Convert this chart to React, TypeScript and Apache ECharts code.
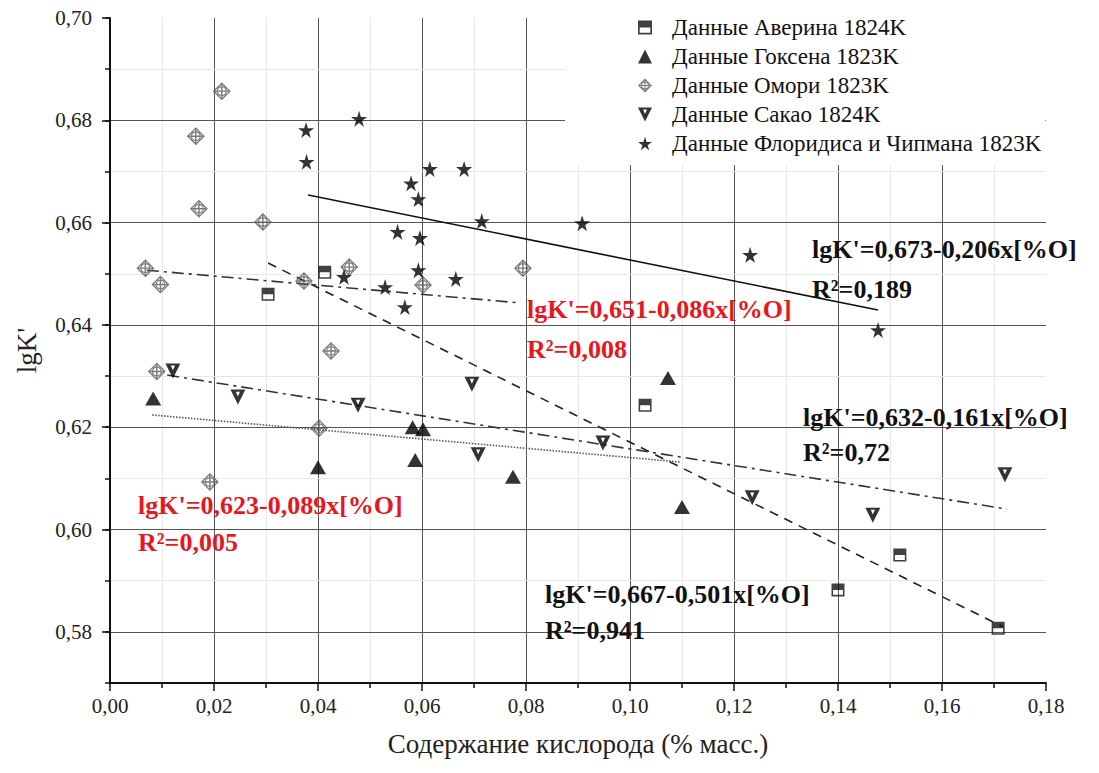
import React, { useEffect, useRef } from "react";
import * as echarts from "echarts";

// ---- data ----
const xTicks = [0, 0.02, 0.04, 0.06, 0.08, 0.1, 0.12, 0.14, 0.16, 0.18];
const yTicks = [0.58, 0.6, 0.62, 0.64, 0.66, 0.68, 0.7];

const averinName = "Данные Аверина 1824K";
const averinX = [0.0304, 0.0413, 0.1029, 0.14, 0.1519, 0.1708];
const averinY = [0.646, 0.6503, 0.6243, 0.5882, 0.595, 0.5807];

const goksenName = "Данные Гоксена 1823K";
const goksenX = [0.0083, 0.04, 0.0582, 0.0602, 0.0587, 0.0775, 0.1073, 0.11];
const goksenY = [0.6256, 0.6122, 0.62, 0.6196, 0.6136, 0.6103, 0.6296, 0.6044];

const omoriName = "Данные Омори 1823K";
const omoriX = [0.0068, 0.0097, 0.009, 0.0165, 0.0171, 0.0215, 0.0192, 0.0294, 0.0373, 0.0402, 0.0425, 0.046, 0.0602, 0.0794];
const omoriY = [0.6511, 0.6479, 0.6309, 0.6769, 0.6627, 0.6857, 0.6093, 0.6601, 0.6486, 0.6198, 0.6349, 0.6513, 0.6478, 0.6511];

const sakaoName = "Данные Сакао 1824K";
const sakaoX = [0.0121, 0.0246, 0.0477, 0.0696, 0.0708, 0.0948, 0.1235, 0.1467, 0.1721];
const sakaoY = [0.631, 0.6259, 0.6243, 0.6284, 0.6146, 0.6169, 0.6062, 0.6028, 0.6107];

const floridisName = "Данные Флоридиса и Чипмана 1823K";
const floridisX = [0.0377, 0.0479, 0.0378, 0.0615, 0.0681, 0.0579, 0.0593, 0.0715, 0.0908, 0.0553, 0.0596, 0.0593, 0.045, 0.0665, 0.0529, 0.0567, 0.1231, 0.1477];
const floridisY = [0.6781, 0.6803, 0.6719, 0.6705, 0.6705, 0.6677, 0.6646, 0.6603, 0.6599, 0.6582, 0.657, 0.6507, 0.6494, 0.649, 0.6474, 0.6435, 0.6537, 0.639];

// fit line end points
const fitFloridisX = [0.0381, 0.1477];
const fitFloridisY = [0.6654, 0.6429];
const fitAverinX = [0.0304, 0.1717];
const fitAverinY = [0.6521, 0.581];
const fitOmoriX = [0.0071, 0.0788];
const fitOmoriY = [0.6507, 0.6443];
const fitSakaoX = [0.011, 0.1725];
const fitSakaoY = [0.6302, 0.604];
const fitGoksenX = [0.0081, 0.1096];
const fitGoksenY = [0.6224, 0.6132];

const eqFloridis = ["lgK'=0,673-0,206x[%O]", "R²=0,189"];
const eqOmori = ["lgK'=0,651-0,086x[%O]", "R²=0,008"];
const eqSakao = ["lgK'=0,632-0,161x[%O]", "R²=0,72"];
const eqGoksen = ["lgK'=0,623-0,089x[%O]", "R²=0,005"];
const eqAverin = ["lgK'=0,667-0,501x[%O]", "R²=0,941"];

const xTitle = "Содержание кислорода (% масс.)";
const yTitle = "lgK'";

// ---- symbols ----
const SYM_STAR = "path://M50,0 L61,35 L98,35 L68,57 L79,91 L50,70 L21,91 L32,57 L2,35 L39,35 Z";
const SYM_HALF_SQUARE = "path://M0,0 L100,0 L100,100 L0,100 Z M12,50 L12,88 L88,88 L88,50 Z";
const SYM_OMORI =
  "path://M50,0 L100,50 L50,100 L0,50 Z M50,10 L10,50 L50,90 L90,50 Z " +
  "M22,50 A28,28 0 1,1 78,50 A28,28 0 1,1 22,50 Z M29,50 A21,21 0 1,0 71,50 A21,21 0 1,0 29,50 Z " +
  "M46,8 L54,8 L54,92 L46,92 Z M8,46 L92,46 L92,54 L8,54 Z";
const SYM_DOWN = "path://M0,0 L100,0 L50,100 Z M36,14 L50,46 L64,14 Z";

const FONT = "'Liberation Serif', 'Times New Roman', serif";
const zip = (xs: number[], ys: number[]) => xs.map((x, i) => [x, ys[i]]);
const fmt = (v: number) => v.toFixed(2).replace(".", ",");

export default function App() {
  const ref = useRef<HTMLDivElement>(null);
  useEffect(() => {
    if (!ref.current) return;
    const chart = echarts.init(ref.current, undefined, { renderer: "svg" });

    const eqText = (lines: string[], x: number, y1: number, y2: number, color: string) => [
      {
        type: "text",
        x,
        y: y1,
        z: 20,
        style: { text: lines[0], fill: color, font: `bold 26px ${FONT}`, verticalAlign: "middle" },
      },
      {
        type: "text",
        x,
        y: y2,
        z: 20,
        style: { text: lines[1], fill: color, font: `bold 26px ${FONT}`, verticalAlign: "middle" },
      },
    ];

    const lineSeries = (name: string, xs: number[], ys: number[], type: any, color: string, width: number) => ({
      name,
      type: "line",
      data: zip(xs, ys),
      showSymbol: false,
      symbol: "none",
      lineStyle: { color, width, type },
      z: 3,
      silent: true,
    });

    chart.setOption({
      animation: false,
      backgroundColor: "#fff",
      textStyle: { fontFamily: FONT },
      grid: { left: 110, right: 53, top: 18, bottom: 90 },
      legend: {
        data: [averinName, goksenName, omoriName, sakaoName, floridisName],
        orient: "vertical",
        left: 565,
        top: 16,
        backgroundColor: "#fff",
        padding: [0, 4, 10, 73],
        itemWidth: 14,
        itemHeight: 14,
        itemGap: 6,
        textStyle: { fontFamily: FONT, fontSize: 23, color: "#111", padding: [0, 0, 0, 15] },
        z: 5,
      },
      xAxis: {
        type: "value",
        min: xTicks[0],
        max: xTicks[xTicks.length - 1],
        interval: 0.02,
        name: xTitle,
        nameLocation: "middle",
        nameGap: 47,
        nameTextStyle: { fontFamily: FONT, fontSize: 27, color: "#222" },
        axisLine: { show: true, onZero: false, lineStyle: { color: "#111", width: 2 } },
        axisTick: { show: true, inside: false, length: 8, lineStyle: { color: "#111", width: 1.5 } },
        minorTick: { show: true, splitNumber: 2, length: 5, lineStyle: { color: "#111", width: 1.5 } },
        axisLabel: { formatter: fmt, fontFamily: FONT, fontSize: 21, color: "#222", margin: 12 },
        splitLine: { show: true, showMinLine: false, showMaxLine: false, lineStyle: { color: "#555", width: 1 } },
        minorSplitLine: { show: true, lineStyle: { color: "#e8e8e8", width: 1 } },
      },
      yAxis: [
        {
          type: "value",
          min: 0.57,
          max: yTicks[yTicks.length - 1],
          splitNumber: 6,
          name: yTitle,
          nameLocation: "middle",
          nameGap: 70,
          nameRotate: 90,
          nameTextStyle: { fontFamily: FONT, fontSize: 27, color: "#222" },
          axisLine: { show: true, onZero: false, lineStyle: { color: "#111", width: 2 } },
          axisTick: { show: true, inside: false, length: 8, lineStyle: { color: "#111", width: 1.5 } },
          axisLabel: { formatter: fmt, fontFamily: FONT, fontSize: 21, color: "#222", margin: 18, showMinLabel: false },
          splitLine: { show: true, showMinLine: false, showMaxLine: false, lineStyle: { color: "#555", width: 1 } },
          z: 2,
        },
        {
          type: "value",
          min: 0.57,
          max: 0.7,
          interval: 0.01,
          position: "left",
          axisLine: { show: false },
          axisTick: { show: true, inside: false, length: 5, lineStyle: { color: "#111", width: 1.5 } },
          axisLabel: { show: false },
          splitLine: { show: true, showMinLine: false, showMaxLine: false, lineStyle: { color: "#e8e8e8", width: 1 } },
          z: 1,
        },
      ],
      graphic: [
        ...eqText(eqFloridis, 812, 249, 289, "#111"),
        ...eqText(eqOmori, 527, 309, 349, "#e8161e"),
        ...eqText(eqSakao, 803, 417, 452, "#111"),
        ...eqText(eqGoksen, 138, 505, 542, "#e8161e"),
        ...eqText(eqAverin, 545, 594, 630, "#111"),
      ],
      series: [
        lineSeries("fitFloridis", fitFloridisX, fitFloridisY, "solid", "#111", 1.6),
        lineSeries("fitAverin", fitAverinX, fitAverinY, [9, 7], "#222", 1.6),
        lineSeries("fitOmori", fitOmoriX, fitOmoriY, [12, 5, 3, 5], "#333", 1.6),
        lineSeries("fitSakao", fitSakaoX, fitSakaoY, [12, 5, 3, 5], "#333", 1.6),
        lineSeries("fitGoksen", fitGoksenX, fitGoksenY, [1.5, 1.5], "#555", 1.6),
        {
          name: averinName,
          type: "scatter",
          data: zip(averinX, averinY),
          symbol: SYM_HALF_SQUARE,
          symbolSize: 13,
          itemStyle: { color: "#111" },
          z: 4,
        },
        {
          name: goksenName,
          type: "scatter",
          data: zip(goksenX, goksenY),
          symbol: "triangle",
          symbolSize: [16, 14],
          itemStyle: { color: "#000" },
          z: 4,
        },
        {
          name: omoriName,
          type: "scatter",
          data: zip(omoriX, omoriY),
          symbol: SYM_OMORI,
          symbolSize: 18,
          itemStyle: { color: "#5a5a5a" },
          z: 4,
        },
        {
          name: sakaoName,
          type: "scatter",
          data: zip(sakaoX, sakaoY),
          symbol: SYM_DOWN,
          symbolSize: [15, 15],
          itemStyle: { color: "#000" },
          z: 4,
        },
        {
          name: floridisName,
          type: "scatter",
          data: zip(floridisX, floridisY),
          symbol: SYM_STAR,
          symbolSize: 16,
          itemStyle: { color: "#000" },
          z: 4,
        },
      ],
    });
    return () => chart.dispose();
  }, []);

  return (
    <div
      ref={ref}
      style={{ position: "fixed", left: 0, top: 0, width: 1099, height: 773, background: "#fff" }}
    />
  );
}
